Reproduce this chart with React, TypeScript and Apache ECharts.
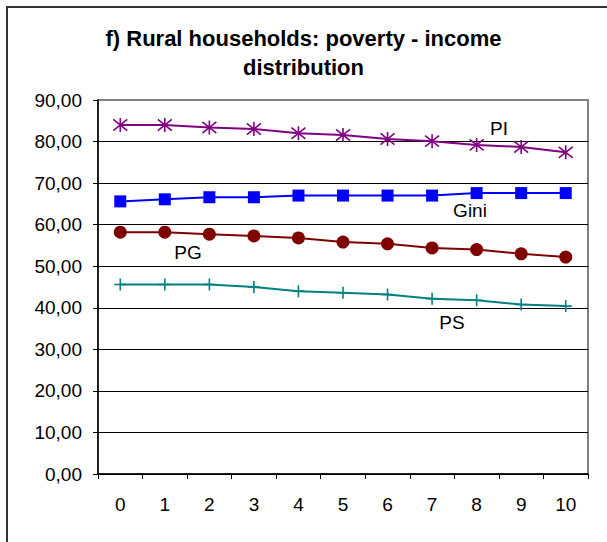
import React, { useEffect, useRef } from "react";
import * as echarts from "echarts";

const categories = ["0", "1", "2", "3", "4", "5", "6", "7", "8", "9", "10"];
const piValues = [84.0, 84.0, 83.4, 83.0, 82.0, 81.6, 80.6, 80.1, 79.2, 78.7, 77.4];
const giniValues = [65.6, 66.1, 66.6, 66.6, 67.0, 67.0, 67.0, 67.0, 67.6, 67.6, 67.6];
const pgValues = [58.2, 58.2, 57.7, 57.3, 56.8, 55.8, 55.4, 54.4, 54.0, 53.0, 52.2];
const psValues = [45.6, 45.6, 45.6, 45.0, 44.0, 43.6, 43.2, 42.2, 41.8, 40.8, 40.4];
const yTicks = { min: 0, max: 90, interval: 10 };
const titleText = "f) Rural households: poverty - income\ndistribution";

const FONT = "'Liberation Sans', Arial, sans-serif";

export default function App() {
  const ref = useRef<HTMLDivElement>(null);
  useEffect(() => {
    if (!ref.current) return;
    const chart = echarts.init(ref.current, undefined, { renderer: "svg" });
    const asterisk = "path://M1,1L9,9M9,1L1,9M5,0L5,10";
    const plus = "path://M5,0L5,10M0,5L10,5";
    const nSplit = yTicks.max / yTicks.interval;
    const colors: string[] = [];
    for (let i = 0; i <= nSplit; i++) colors.push(i === nSplit ? "#808080" : "#000000");
    const label = (text: string, x: number, y: number) => ({
      type: "text",
      x,
      y,
      style: { text, font: `19px ${FONT}`, fill: "#000", textAlign: "center", textVerticalAlign: "middle" },
    });
    chart.setOption({
      animation: false,
      backgroundColor: "#ffffff",
      title: {
        text: titleText,
        left: "center",
        top: 24,
        padding: 0,
        textStyle: {
          fontFamily: FONT,
          fontSize: 22,
          fontWeight: "bold",
          color: "#000",
          lineHeight: 29,
        },
      },
      grid: {
        left: 98,
        right: 19,
        top: 100,
        bottom: 68,
        show: true,
        borderColor: "#808080",
        borderWidth: 2,
        backgroundColor: "transparent",
      },
      xAxis: {
        type: "category",
        data: categories,
        boundaryGap: true,
        axisLine: { show: true, lineStyle: { color: "#000", width: 1.5 } },
        axisTick: { show: true, length: 5, alignWithLabel: false, lineStyle: { color: "#000" } },
        axisLabel: { color: "#000", fontSize: 19, fontFamily: FONT, margin: 21 },
        splitLine: { show: false },
      },
      yAxis: {
        type: "value",
        min: yTicks.min,
        max: yTicks.max,
        interval: yTicks.interval,
        axisLine: { show: true, lineStyle: { color: "#000", width: 1.5 } },
        axisTick: { show: true, length: 5, lineStyle: { color: "#000" } },
        axisLabel: {
          color: "#000",
          fontSize: 19,
          fontFamily: FONT,
          margin: 16,
          formatter: (v: number) => v.toFixed(2).replace(".", ","),
        },
        splitLine: { show: true, lineStyle: { color: colors, width: 1 } },
      },
      series: [
        {
          name: "PI",
          type: "line",
          data: piValues,
          symbol: asterisk,
          symbolSize: 14,
          lineStyle: { color: "#800080", width: 2 },
          itemStyle: { color: "#800080", borderColor: "#800080", borderWidth: 1.6 },
        },
        {
          name: "Gini",
          type: "line",
          data: giniValues,
          symbol: "rect",
          symbolSize: 12,
          lineStyle: { color: "#0000ff", width: 2 },
          itemStyle: { color: "#0000ff" },
        },
        {
          name: "PG",
          type: "line",
          data: pgValues,
          symbol: "circle",
          symbolSize: 13,
          lineStyle: { color: "#800000", width: 2 },
          itemStyle: { color: "#800000" },
        },
        {
          name: "PS",
          type: "line",
          data: psValues,
          symbol: plus,
          symbolSize: 12,
          lineStyle: { color: "#008080", width: 2 },
          itemStyle: { color: "#008080", borderColor: "#008080", borderWidth: 1.6 },
        },
      ],
      graphic: [
        {
          type: "rect",
          shape: { x: 7, y: 7, width: 700, height: 700 },
          style: { fill: "none", stroke: "#333333", lineWidth: 2 },
          silent: true,
        },
        label("PI", 499, 128),
        label("Gini", 470, 210),
        label("PG", 188, 252),
        label("PS", 452, 322),
      ],
    });
    return () => chart.dispose();
  }, []);
  return (
    <div
      ref={ref}
      style={{ position: "fixed", left: 0, top: 0, width: 607, height: 542 }}
    />
  );
}
